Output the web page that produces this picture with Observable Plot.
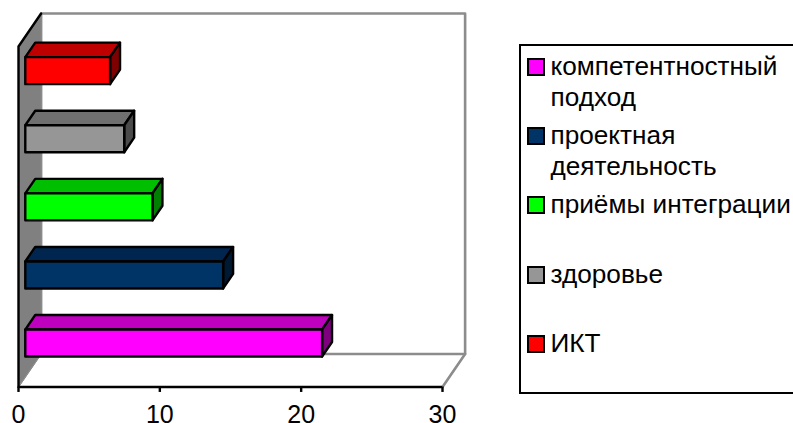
<!DOCTYPE html>
<html>
<head>
<meta charset="utf-8">
<script src="https://cdn.jsdelivr.net/npm/d3@7"></script>
<script src="https://cdn.jsdelivr.net/npm/@observablehq/plot@0.6"></script>
<style>
  html, body { margin: 0; padding: 0; background: #fff; overflow: hidden; }
  #wrap { position: relative; width: 793px; height: 423px; font-family: "Liberation Sans", Arial, sans-serif; }
  #wrap svg { position: absolute; left: 0; top: 0; overflow: visible; }
  #legend { position: absolute; left: 518.5px; top: 44px; width: 290px; height: 350px; box-sizing: border-box; border: 2px solid #000; }
  .item { position: absolute; left: 6.5px; height: 69.4px; }
  .sw { position: absolute; left: 0; top: 7px; width: 18px; height: 18px; box-sizing: border-box; border: 2.5px solid #000; }
  .lb { position: absolute; left: 23.5px; top: 0; font-size: 26.2px; line-height: 31px; white-space: nowrap; color: #000; }
</style>
</head>
<body>
<div id="wrap"><div id="legend"></div></div>
<script>
// Bottom to top on the chart
const categories = ["компетентностный подход", "проектная деятельность", "приёмы интеграции", "здоровье", "ИКТ"];
const legendLines = [["компетентностный", "подход"], ["проектная", "деятельность"], ["приёмы интеграции"], ["здоровье"], ["ИКТ"]];
const values = [21, 14, 9, 7, 6];
const frontColors = ["#FF00FF", "#003366", "#00FF00", "#969696", "#FF0000"];
const topColors = ["#BF00BF", "#002650", "#00BF00", "#707070", "#BF0000"];
const sideColors = ["#7F007F", "#001933", "#007F00", "#4B4B4B", "#7F0000"];
const xTicks = [0, 10, 20, 30];
const xMax = 30;

// Oblique projection of the 3-D box, in scale units
const depthX = 1.6, depthY = 0.485;
const z0 = 0.3, z1 = 0.74, halfBar = 0.198;
const tickLength = 0.08;
const px = (x, z) => x + depthX * z;
const py = (y, z) => y + depthY * z;
const poly = (pts) => pts.map(([x, y, z]) => ({x: px(x, z), y: py(y, z)}));
const nCat = categories.length;

const wall = poly([[0,0,0],[0,nCat,0],[0,nCat,1],[0,0,1]]);
const back = poly([[0,0,1],[0,nCat,1],[xMax,nCat,1],[xMax,0,1]]);
const wallEdge = poly([[0,0,0],[0,nCat,0],[0,nCat,1]]);
const floorEdge = poly([[xMax,0,0],[xMax,0,1]]);
const wallFoot = poly([[0,0,0],[0,0,1]]);

const barMarks = values.flatMap((v, i) => {
  const lo = i + 0.5 - halfBar, hi = i + 0.5 + halfBar;
  const opts = {x: "x", y: "y", curve: "linear-closed", stroke: "#000", strokeWidth: 2.4, strokeLinejoin: "round"};
  return [
    Plot.line(poly([[0,hi,z0],[v,hi,z0],[v,hi,z1],[0,hi,z1]]), {...opts, fill: topColors[i]}),
    Plot.line(poly([[v,lo,z0],[v,hi,z0],[v,hi,z1],[v,lo,z1]]), {...opts, fill: sideColors[i]}),
    Plot.line(poly([[0,lo,z0],[v,lo,z0],[v,hi,z0],[0,hi,z0]]), {...opts, fill: frontColors[i]})
  ];
});

const chart = Plot.plot({
  width: 793,
  height: 423,
  marginLeft: 18,
  marginRight: 351,
  marginTop: 46,
  marginBottom: 36.5,
  style: {fontFamily: "'Liberation Sans', Arial, sans-serif", fontSize: "25px", color: "#000", background: "transparent"},
  x: {domain: [0, xMax]},
  y: {domain: [0, nCat], axis: null},
  marks: [
    Plot.line(back, {x: "x", y: "y", curve: "linear-closed", stroke: "#8c8c8c", strokeWidth: 2.6}),
    Plot.line(floorEdge, {x: "x", y: "y", stroke: "#8c8c8c", strokeWidth: 2.6}),
    Plot.line(wall, {x: "x", y: "y", curve: "linear-closed", fill: "#808080", stroke: "#8c8c8c", strokeWidth: 1}),
    Plot.line(wallFoot, {x: "x", y: "y", stroke: "#8c8c8c", strokeWidth: 1}),
    Plot.line(wallEdge, {x: "x", y: "y", stroke: "#000", strokeWidth: 2.4}),
    ...barMarks,
    Plot.ruleY([0], {x1: 0, x2: xMax, stroke: "#000", strokeWidth: 2.4}),
    Plot.ruleX(xTicks, {y1: 0, y2: -tickLength, stroke: "#000", strokeWidth: 2.4}),
    Plot.axisX({ticks: xTicks, tickSize: 0, tickPadding: 18, fontSize: 25, label: null, tickFormat: String})
  ]
});
const wrap = document.getElementById("wrap");
wrap.insertBefore(chart, wrap.firstChild);

// Legend to the right of the chart
const legend = document.getElementById("legend");
legendLines.forEach((lines, i) => {
  const item = document.createElement("div");
  item.className = "item";
  item.style.top = (4.5 + 69.4 * i) + "px";
  const sw = document.createElement("div");
  sw.className = "sw";
  sw.style.background = frontColors[i];
  const lb = document.createElement("div");
  lb.className = "lb";
  lb.innerHTML = lines.join("<br>");
  item.append(sw, lb);
  legend.append(item);
});
</script>
</body>
</html>
